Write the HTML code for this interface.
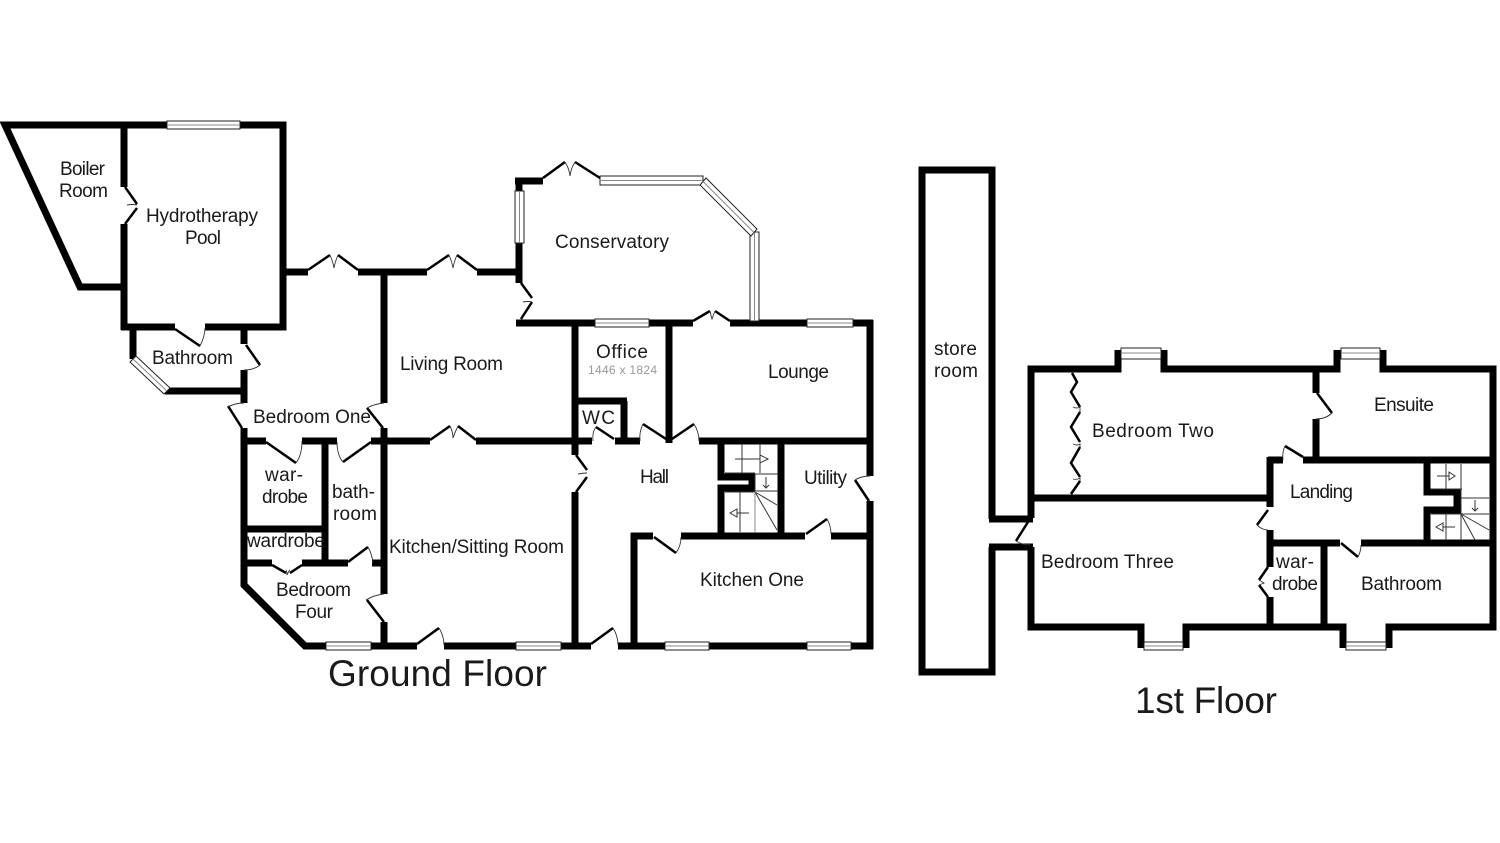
<!DOCTYPE html>
<html><head><meta charset="utf-8"><style>
html,body{margin:0;padding:0;background:#fff}
svg{display:block}
.w{fill:none;stroke:#000;stroke-width:7;stroke-linejoin:miter;stroke-linecap:butt}
.l{fill:none;stroke:#000;stroke-width:2.5}
.a{fill:none;stroke:#333;stroke-width:.9}
.g{fill:#fff;stroke:#222;stroke-width:1}
.m{fill:none;stroke:#888;stroke-width:1}
.s{fill:none;stroke:#333;stroke-width:1}
.h{fill:#fff;stroke:#333;stroke-width:1}
text{font-family:"Liberation Sans",sans-serif;font-size:19px;fill:#1a1a1a}
</style></head><body>
<svg width="1500" height="843" viewBox="0 0 1500 843" xmlns="http://www.w3.org/2000/svg">
<!-- GROUND WALLS -->
<path class="w" d="M167 125H5L80 287H124M240 125H283V327H205M175 327H121M124 121.500V187M124 224V330"/>
<path class="w" d="M133 327V359M165 391H247M244 327V344M244 370V403M244 428V585L305 646H326"/>
<path class="w" d="M283 272H308M358 272H427M477 272H519M519 243V283M515 181H543M519 178V191"/>
<path class="w" d="M384 272V403M384 428V594M384 622V649"/>
<path class="w" d="M516 323H595M649 323H693M730 323H807M853 323H873"/>
<path class="w" d="M870 320V476M870 501V649"/>
<path class="w" d="M575 323V455M575 492V649"/>
<path class="w" d="M669 323V443M575 401H627M624 401V441"/>
<path class="w" d="M243 441H266M302 441H337M371 441H430M476 441H592M615 441H640M699 441H870"/>
<path class="w" d="M721 441V477H752V488H721V536M781 441V536"/>
<path class="w" d="M631 536H653M681 536H805M831 536H870M634 533V649"/>
<path class="w" d="M325 441V566M243 529H325M243 563H272M302 563H348M372 563H384"/>
<path class="w" d="M371 646H417M444 646H516M561 646H591M618 646H665M709 646H807M851 646H873"/>
<!-- ground windows -->
<g>
<rect class="g" x="167" y="121" width="73" height="8"/><path class="m" d="M167 125H240"/>
<rect class="g" x="595" y="319" width="54" height="8"/><path class="m" d="M595 323H649"/>
<rect class="g" x="807" y="319" width="46" height="8"/><path class="m" d="M807 323H853"/>
<rect class="g" x="326" y="642" width="45" height="8"/><path class="m" d="M326 646H371"/>
<rect class="g" x="516" y="642" width="45" height="8"/><path class="m" d="M516 646H561"/>
<rect class="g" x="665" y="642" width="44" height="8"/><path class="m" d="M665 646H709"/>
<rect class="g" x="807" y="642" width="44" height="8"/><path class="m" d="M807 646H851"/>
<rect class="g" x="515" y="191" width="9" height="52"/><path class="m" d="M519.500 191V243"/>
<rect class="g" x="600" y="176" width="103" height="9"/><path class="m" d="M600 180.500H703"/>
<rect class="g" x="750" y="232" width="9" height="89"/><path class="m" d="M754.500 232V321"/>
<path class="g" d="M706 178L757 229 751 236 700 185Z"/><path class="m" d="M703 181.500L754 232.500"/>
<path class="g" d="M136 356L170 388 164 394 130 362Z"/><path class="m" d="M133 359L167 391"/>
</g>
<!-- ground doors -->
<path class="l" d="M125 187L137 204M137 208L125 224M175 329L200 346"/><path class="a" d="M127 205Q132 204 137 205M200 346Q205 336 205 328"/>
<path class="l" d="M246 345L260 365"/><path class="a" d="M260 365Q254 370 244 370"/>
<path class="l" d="M308 270L330 255M338 255L358 270"/><path class="a" d="M330 255Q333 262 334 268Q335 262 338 255"/>
<path class="l" d="M427 270L449 255M457 255L477 270"/><path class="a" d="M449 255Q452 262 453 268Q454 262 457 255"/>
<path class="l" d="M543 178L565 162M575 162L600 178"/><path class="a" d="M565 162Q569 168 570 176Q571 168 575 162"/>
<path class="l" d="M521 283L532 298M532 302L521 319"/><path class="a" d="M523 302Q528 301 532 302"/>
<path class="l" d="M693 321L710 311M715 311L730 321"/><path class="a" d="M710 311Q711 316 712 319Q713 316 715 311"/>
<path class="l" d="M242 428L228 406"/><path class="a" d="M244 403Q235 403 228 407"/>
<path class="l" d="M367 408L383 428"/><path class="a" d="M384 403Q374 404 367 408"/>
<path class="l" d="M266 442L296 463"/><path class="a" d="M296 463Q302 455 302 441"/>
<path class="l" d="M371 442L343 462"/><path class="a" d="M337 442Q337 455 343 462"/>
<path class="l" d="M430 440L450 426M458 426L476 440"/><path class="a" d="M450 426Q453 432 453 438Q455 432 458 426"/>
<path class="l" d="M614 439L596 427"/><path class="a" d="M596 427Q592 432 593 441"/>
<path class="l" d="M666 439L643 424M672 439L694 424"/><path class="a" d="M643 424Q639 432 640 441M694 424Q699 432 699 441"/>
<path class="l" d="M576 455L587 470M587 477L576 492"/><path class="a" d="M578 474Q583 473 587 473"/>
<path class="l" d="M869 501L855 480"/><path class="a" d="M855 480Q861 476 870 476"/>
<path class="l" d="M654 537L676 553"/><path class="a" d="M676 553Q681 546 681 537"/>
<path class="l" d="M806 534L827 519"/><path class="a" d="M827 519Q831 526 831 534"/>
<path class="l" d="M591 644L613 628M417 644L439 628"/><path class="a" d="M613 628Q618 636 618 645M439 628Q444 636 444 645"/>
<path class="l" d="M367 600L384 622"/><path class="a" d="M384 594Q374 595 366 600"/>
<path class="l" d="M348 562L368 547"/><path class="a" d="M368 547Q372 554 373 563"/>
<path class="l" d="M272 565L286 573M290 573L302 565"/><path class="a" d="M286 570Q287 572 287 575Q288 572 290 570"/>
<!-- ground stairs -->
<path class="s" d="M725 473H755M742 444V473M760 444V473M755 474H778M755 474V491M755 491H778"/>
<path class="s" d="M735 459H760"/><path class="h" d="M760 455L768 459 760 463Z"/>
<path class="s" d="M766 477V488M763 485L766 488 769 485"/>
<path class="s" d="M725 492H755M740 492V532M755 492L777 505M755 492L777 530"/>
<path class="m" d="M755 491V532"/>
<path class="s" d="M730 513H749"/><path class="h" d="M730 513L737 509V517Z"/>

<!-- STORE ROOM -->
<path class="w" d="M992 519V170H922V672H992V547"/>
<path class="w" d="M989 519H1033M989 547H1033"/>
<path class="l" d="M1028 522L1016 541"/><path class="a" d="M1016 541Q1022 545 1030 545"/>

<!-- FIRST FLOOR -->
<path class="w" d="M1031 518V369H1118V350M1118 353V369M1164 350V369H1337V350M1383 350V369H1493V627H1389V648M1343 648V627H1186V648M1141 648V627H1031V547"/>
<path class="w" d="M1031 498H1270M1316 369V393M1316 419V460M1303 460H1493M1268 460H1283M1270 457V507M1270 530V567M1270 597V627"/>
<path class="w" d="M1270 543H1340M1361 543H1427M1427 543H1493M1324 543V627"/>
<path class="w" d="M1427 460V492H1457V510H1427V543"/>
<rect class="g" x="1121" y="348" width="40" height="11"/><path class="m" d="M1121 353H1161"/>
<rect class="g" x="1341" y="348" width="39" height="11"/><path class="m" d="M1341 353H1380"/>
<rect class="g" x="1144" y="642" width="39" height="8"/><path class="m" d="M1144 646H1183"/>
<rect class="g" x="1346" y="642" width="40" height="8"/><path class="m" d="M1346 646H1386"/>
<path class="l" d="M1072 373L1077 382 1071 392 1080 407M1080 412L1071 427 1080 442M1080 447L1071 463 1080 477M1080 481L1071 494"/>
<path class="a" d="M1073 407Q1077 409 1080 407L1080 412M1073 444Q1077 446 1080 444L1080 447M1073 479Q1077 480 1080 478L1080 481"/>
<path class="l" d="M1317 393L1332 413"/><path class="a" d="M1332 413Q1326 419 1316 419"/>
<path class="l" d="M1303 457L1285 446"/><path class="a" d="M1285 446Q1282 452 1283 460"/>
<path class="l" d="M1268 510L1257 525"/><path class="a" d="M1257 525Q1262 530 1268 530"/>
<path class="l" d="M1268 567L1259 580M1259 585L1268 597"/><path class="a" d="M1259 580L1264 583 1259 585"/>
<path class="l" d="M1341 543L1358 557"/><path class="a" d="M1358 557Q1361 551 1361 545"/>
<path class="s" d="M1431 489H1462M1446 464V489M1461 464V489M1461 476V498H1489M1461 498V514H1489M1431 514H1461M1446 514V540M1461 514V540M1461 514L1489 530M1461 514L1475 540"/>
<path class="s" d="M1437 476H1449"/><path class="h" d="M1449 472L1455 476 1449 480Z"/>
<path class="s" d="M1475 500V511M1472 508L1475 511 1478 508"/>
<path class="s" d="M1442 527H1455"/><path class="h" d="M1436 527L1443 523V531Z"/>

<!-- LABELS -->
<text x="60" y="175" textLength="45">Boiler</text>
<text x="59" y="197" textLength="49">Room</text>
<text x="146" y="222" textLength="112">Hydrotherapy</text>
<text x="185" y="244" textLength="36">Pool</text>
<text x="152" y="364" textLength="81">Bathroom</text>
<text x="555" y="248" textLength="114">Conservatory</text>
<text x="400" y="370" textLength="103">Living Room</text>
<text x="596" y="358" textLength="52">Office</text>
<text x="588" y="374" textLength="69" style="font-size:12px;fill:#999">1446 x 1824</text>
<text x="768" y="378" textLength="61">Lounge</text>
<text x="253" y="423" textLength="118">Bedroom One</text>
<text x="582" y="424" textLength="33">WC</text>
<text x="640" y="483" textLength="29">Hall</text>
<text x="804" y="484" textLength="43">Utility</text>
<text x="265" y="481" textLength="38">war-</text>
<text x="262" y="503" textLength="46">drobe</text>
<text x="332" y="498" textLength="43">bath-</text>
<text x="333" y="520" textLength="44">room</text>
<text x="247" y="547" textLength="78">wardrobe</text>
<text x="389" y="553" textLength="175">Kitchen/Sitting Room</text>
<text x="276" y="596" textLength="75">Bedroom</text>
<text x="295" y="618" textLength="38">Four</text>
<text x="700" y="586" textLength="104">Kitchen One</text>
<text x="934" y="355" textLength="43">store</text>
<text x="934" y="377" textLength="44">room</text>
<text x="1092" y="437" textLength="122">Bedroom Two</text>
<text x="1041" y="568" textLength="133">Bedroom Three</text>
<text x="1374" y="411" textLength="60">Ensuite</text>
<text x="1290" y="498" textLength="63">Landing</text>
<text x="1276" y="568" textLength="38">war-</text>
<text x="1272" y="590" textLength="46">drobe</text>
<text x="1361" y="590" textLength="81">Bathroom</text>
<text x="328" y="686" textLength="219" style="font-size:37px">Ground Floor</text>
<text x="1135" y="713" textLength="142" style="font-size:37px">1st Floor</text>
</svg>
</body></html>
